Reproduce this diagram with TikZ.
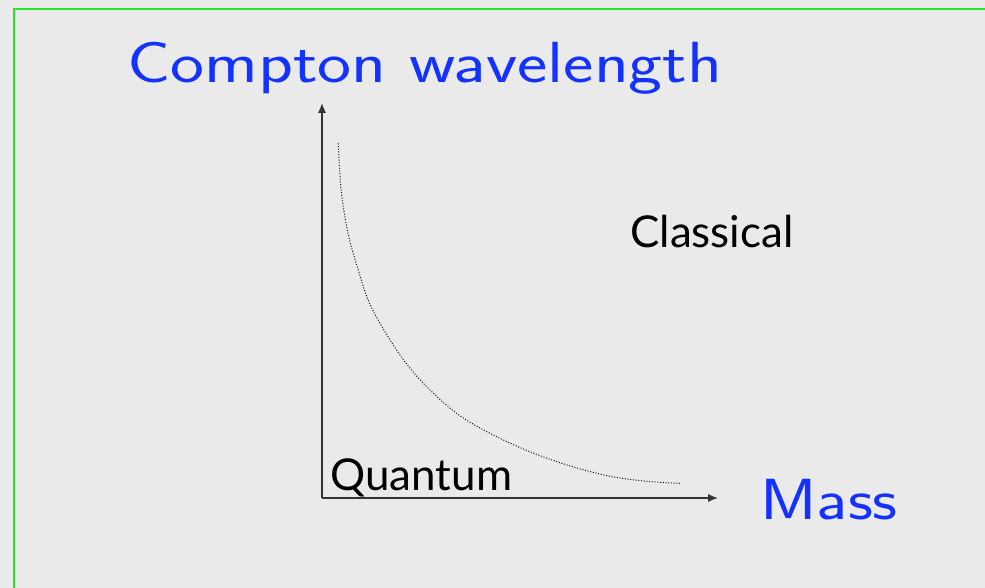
\documentclass[tikz,border=0pt]{standalone}
\usepackage{fontspec}
\usepackage{xcolor}
\usetikzlibrary{arrows.meta,calc,positioning}
\newfontfamily\regionfont{Lato}
\definecolor{slidegray}{RGB}{234,234,234}
\definecolor{framegreen}{RGB}{40,228,40}
\definecolor{titleblue}{RGB}{20,50,255}
\tikzset{axislabel/.style={inner sep=0,anchor=base west,text=titleblue,font=\sffamily\fontsize{33}{40}\selectfont},
  regionlabel/.style={inner sep=0,anchor=base west,font=\regionfont\fontsize{25}{30}\selectfont}}

\begin{document}
\begin{tikzpicture}[x=0.02cm,y=-0.02cm,>={Latex[length=5.6pt,width=4.6pt]}]
\useasboundingbox (0,0) rectangle (985,588);
\fill[slidegray] (0,0) rectangle (985,588);
\draw[framegreen,line width=1.2pt] (14,600) -- (14,9) -- (1000,9);
\coordinate (origin) at (322,498); \coordinate (ytip) at (322,103); \coordinate (xtip) at (718,498);
\draw[->,black!80,line width=0.85pt] (origin) -- (ytip);
\draw[->,black!80,line width=0.85pt] (origin) -- (xtip);
\draw[densely dotted,line width=0.55pt] plot[smooth,tension=0.7] coordinates {(338.3,143.3) (343,205) (356.7,265) (380,323.3) (430,390) (496.7,436.7) (596.7,473.3) (680,483.3)};
\node[axislabel] (title) at (127,83) {\scalebox{1.245}[1]{Compton wavelength}};
\node[axislabel] (mass) at (760,519) {\scalebox{1.19}[1]{Mass}};
\node[regionlabel] (classical) at (630,248) {Classical};
\node[regionlabel] (quantum) at (330,490) {Quantum};
\end{tikzpicture}
\end{document}
